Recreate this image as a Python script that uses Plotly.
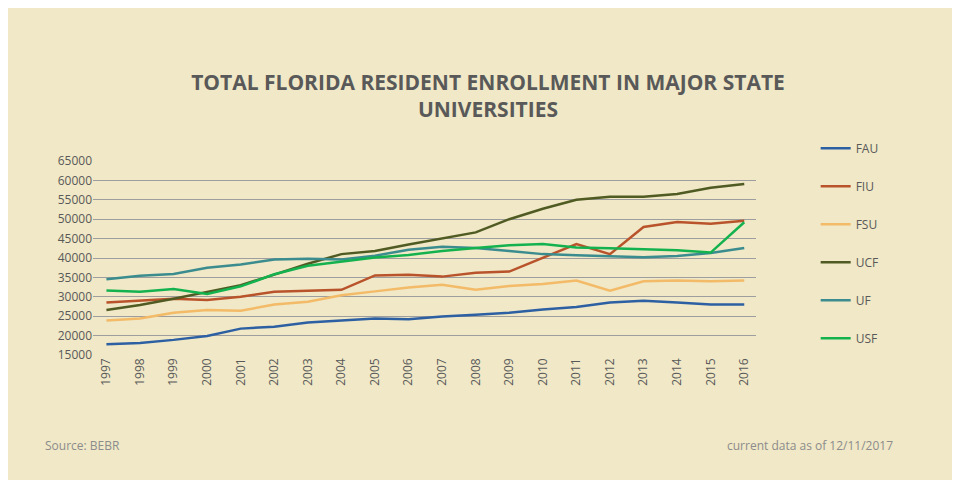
import plotly.graph_objects as go

years = [str(y) for y in range(1997, 2017)]
fau = [17800, 18100, 18900, 19900, 21800, 22300, 23400, 23900, 24400, 24200, 24900, 25400, 25900, 26700, 27400, 28500, 29000, 28500, 28000, 28000]
fiu = [28500, 29000, 29500, 29200, 30000, 31300, 31600, 31800, 35500, 35700, 35200, 36200, 36500, 40000, 43600, 41000, 48000, 49300, 48800, 49600]
fsu = [23900, 24400, 25900, 26600, 26400, 28000, 28700, 30400, 31400, 32400, 33100, 31800, 32800, 33300, 34200, 31600, 34000, 34200, 34000, 34200]
ucf = [26600, 27900, 29500, 31300, 33000, 35700, 38500, 41000, 41800, 43500, 45000, 46600, 50000, 52700, 55000, 55800, 55800, 56500, 58100, 59100]
uf = [34500, 35400, 35900, 37500, 38300, 39600, 39800, 39600, 40600, 42100, 42900, 42600, 41800, 41000, 40700, 40400, 40200, 40500, 41300, 42600]
usf = [31600, 31300, 32000, 30700, 32700, 35800, 38000, 39000, 40100, 40800, 41800, 42600, 43300, 43600, 42700, 42500, 42300, 42000, 41400, 49200]

series = [("FAU", fau, "#2d5fa3"), ("FIU", fiu, "#b9532b"), ("FSU", fsu, "#f3ba68"),
          ("UCF", ucf, "#4f5b22"), ("UF", uf, "#3a8c8e"), ("USF", usf, "#13b24f")]

fig = go.Figure()
for i, (name, vals, col) in enumerate(series):
    fig.add_trace(go.Scatter(x=years, y=vals, name=name, mode="lines", legendgroup=str(i),
                             line=dict(color=col, width=2.5)))

fig.update_layout(
    width=960, height=480,
    paper_bgcolor="#f0e8c6", plot_bgcolor="#f0e8c6",
    margin=dict(l=85, r=212, t=153, b=133),
    font=dict(family="Open Sans, DejaVu Sans", color="#595959", size=12),
    title=dict(text="<b>TOTAL FLORIDA RESIDENT ENROLLMENT IN MAJOR STATE<br>UNIVERSITIES</b>",
               x=0.5, xanchor="center", y=0.83, yanchor="top",
               font=dict(size=21, color="#595959")),
    xaxis=dict(tickangle=-90, showgrid=False, ticks="", tickfont=dict(size=12),
               range=[-0.4, 19.35]),
    yaxis=dict(range=[15000, 65000], dtick=5000, gridcolor="#9e9e9e", gridwidth=1,
               zeroline=False, tickformat="d", tickfont=dict(size=12)),
    legend=dict(x=1.09, y=1.14, xanchor="left", yanchor="top", tracegroupgap=19,
                traceorder="grouped", font=dict(size=12)),
    showlegend=True,
)

fig.add_annotation(text="Source: BEBR", xref="paper", yref="paper", x=-0.075, y=-0.52,
                   xanchor="left", showarrow=False, font=dict(size=12, color="#8c8c8c"))
fig.add_annotation(text="current data as of 12/11/2017", xref="paper", yref="paper", x=1.21, y=-0.52,
                   xanchor="right", showarrow=False, font=dict(size=12, color="#8c8c8c"))

fig.write_html("out.html")
